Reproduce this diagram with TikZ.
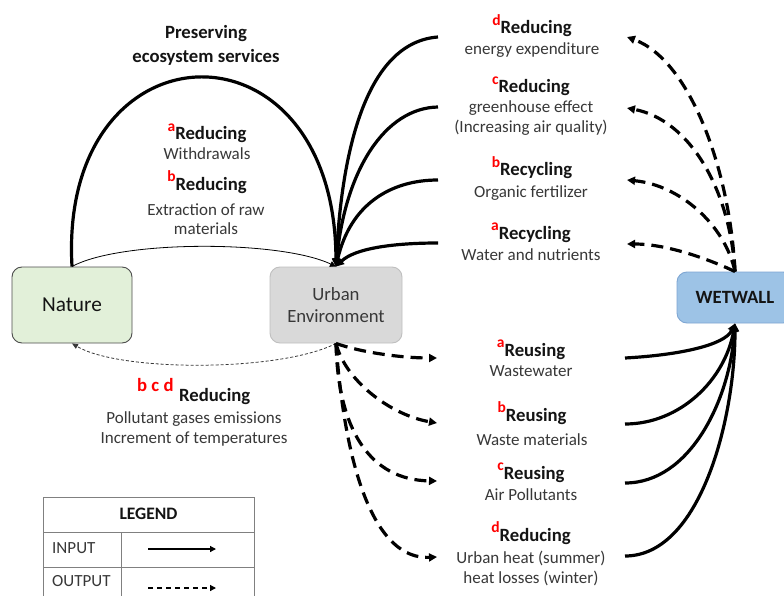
\documentclass[tikz,border=0pt]{standalone}
\usepackage{fontspec}
\setmainfont{Carlito}
\usetikzlibrary{arrows.meta}
\definecolor{txt}{HTML}{383838}
\definecolor{hd}{HTML}{141414}
\definecolor{natfill}{HTML}{E2F0D9}
\definecolor{natdraw}{HTML}{4D4D4D}
\definecolor{urbfill}{HTML}{D9D9D9}
\definecolor{urbdraw}{HTML}{BFBFBF}
\definecolor{wetfill}{HTML}{9DC3E6}
\definecolor{wetdraw}{HTML}{7EA6D3}
\definecolor{supred}{HTML}{FF0000}
\definecolor{legline}{HTML}{808080}
\newcommand\rsup[1]{\textcolor{supred}{\raisebox{8.5pt}{\fontsize{15.5}{15}\selectfont\bfseries #1}}}
\tikzset{
  box/.style={rounded corners=10pt, line width=0.9pt, inner sep=0, align=center},
  ttl/.style={inner sep=0, anchor=base, font=\fontsize{18.7}{22}\selectfont\bfseries, text=hd},
  body/.style={inner sep=0, anchor=base, font=\fontsize{17}{20}\selectfont, text=txt},
  inarr/.style={line width=3.2pt, -{Triangle[length=8pt,width=8pt]}},
  outarr/.style={line width=3.2pt, dash pattern=on 12pt off 7pt, -{Triangle[length=8pt,width=8pt]}},
  legrule/.style={draw=legline, line width=0.9pt},
}
\begin{document}
\begin{tikzpicture}[x=1pt,y=1pt]
\useasboundingbox (0,0) rectangle (784,-596);
\clip (0,0) rectangle (784,-596);
\fill[white] (0,0) rectangle (784,-596);

% main boxes
\node[box, fill=natfill, draw=natdraw, minimum width=120pt, minimum height=76pt,
      font=\fontsize{21.3}{25}\selectfont, text=hd] (nature) at (72,-305) {Nature};
\node[box, fill=urbfill, draw=urbdraw, minimum width=132pt, minimum height=76pt,
      font=\fontsize{18.7}{22}\selectfont, text=txt] (urban) at (336,-305) {Urban\\Environment};
\node[box, fill=wetfill, draw=wetdraw, minimum width=116pt, minimum height=51pt,
      font=\fontsize{18.7}{22}\selectfont\bfseries, text=hd] (wet) at (735,-297.5) {WETWALL};

% top-left texts
\node[ttl] (pres) at (206,-39) {Preserving};
\node[ttl] (eco) at (206,-63) {ecosystem services};
\node[ttl] (redA) at (207,-140) {\rsup{a}Reducing};
\node[body] (withd) at (207,-160) {Withdrawals};
\node[ttl] (redB) at (207,-190) {\rsup{b}Reducing};
\node[body] (extr) at (206,-215) {Extraction of raw};
\node[body] (mat) at (206,-234) {materials};

% bottom-left texts
\node[ttl, anchor=base west, text=supred] (bcd) at (137,-391) {b c d};
\node[ttl, anchor=base west] (redBCD) at (179,-401) {Reducing};
\node[body] (poll) at (194,-423) {Pollutant gases emissions};
\node[body] (incr) at (194,-443) {Increment of temperatures};

% right-top texts
\node[ttl] (rt1) at (532,-34) {\rsup{d}Reducing};
\node[body] (rb1) at (532,-55) {energy expenditure};
\node[ttl] (rt2) at (531,-93) {\rsup{c}Reducing};
\node[body] (rb2) at (531,-113) {greenhouse effect};
\node[body] (rb2b) at (531,-133) {(Increasing air quality)};
\node[ttl] (rt3) at (532,-176) {\rsup{b}Recycling};
\node[body] (rb3) at (531,-197) {Organic fertilizer};
\node[ttl] (rt4) at (531,-239) {\rsup{a}Recycling};
\node[body] (rb4) at (531,-260) {Water and nutrients};

% right-bottom texts
\node[ttl] (bt1) at (531,-356) {\rsup{a}Reusing};
\node[body] (bb1) at (531,-376) {Wastewater};
\node[ttl] (bt2) at (532,-421) {\rsup{b}Reusing};
\node[body] (bb2) at (532,-445) {Waste materials};
\node[ttl] (bt3) at (531,-479) {\rsup{c}Reusing};
\node[body] (bb3) at (531,-500) {Air Pollutants};
\node[ttl] (bt4) at (531,-541) {\rsup{d}Reducing};
\node[body] (bb4) at (531,-563) {Urban heat (summer)};
\node[body] (bb4b) at (531,-583) {heat losses (winter)};

% connector end coordinates
\coordinate (s1) at (438,-37);
\coordinate (s2) at (438,-107);
\coordinate (s3) at (438,-180);
\coordinate (s4) at (438,-243);
\coordinate (o1) at (627,-37);
\coordinate (o2) at (627,-108);
\coordinate (o3) at (627,-180);
\coordinate (o4) at (627,-244);
\coordinate (u1) at (437,-358);
\coordinate (u2) at (437,-423);
\coordinate (u3) at (437,-481);
\coordinate (u4) at (437,-557);
\coordinate (w1) at (625,-358);
\coordinate (w2) at (625,-424);
\coordinate (w3) at (625,-483);
\coordinate (w4) at (625,-556);

% nature <-> urban
\draw[inarr] (nature.north) .. controls (58,-20) and (335,-10) .. (urban.north);
\draw[line width=0.8pt, -{Triangle[length=6pt,width=6pt]}] (nature.north) .. controls (120,-240) and (280,-240) .. (urban.north);
\draw[line width=0.8pt, draw=txt, dash pattern=on 3pt off 2pt, -{Triangle[length=6pt,width=5pt]}]
  (urban.south) .. controls (280,-372) and (120,-372) .. (nature.south);

% inputs to urban
\draw[inarr] (s1) .. controls (370,-42) and (342,-140) .. (urban.north);
\draw[inarr] (s2) .. controls (385,-108) and (345,-170) .. (urban.north);
\draw[inarr] (s3) .. controls (390,-180) and (350,-205) .. (urban.north);
\draw[inarr] (s4) .. controls (395,-243) and (355,-248) .. (urban.north);

% outputs of wetwall
\draw[outarr] (wet.north) .. controls (730,-170) and (690,-60) .. (o1);
\draw[outarr] (wet.north) .. controls (730,-190) and (690,-120) .. (o2);
\draw[outarr] (wet.north) .. controls (725,-225) and (680,-185) .. (o3);
\draw[outarr] (wet.north) .. controls (715,-262) and (670,-244) .. (o4);

% outputs of urban
\draw[outarr] (urban.south) .. controls (360,-352) and (400,-358) .. (u1);
\draw[outarr] (urban.south) .. controls (345,-380) and (390,-415) .. (u2);
\draw[outarr] (urban.south) .. controls (338,-430) and (370,-480) .. (u3);
\draw[outarr] (urban.south) .. controls (345,-470) and (375,-560) .. (u4);

% inputs to wetwall
\draw[inarr] (w1) .. controls (680,-355) and (725,-345) .. (wet.south);
\draw[inarr] (w2) .. controls (680,-424) and (725,-380) .. (wet.south);
\draw[inarr] (w3) .. controls (690,-483) and (730,-400) .. (wet.south);
\draw[inarr] (w4) .. controls (700,-556) and (735,-420) .. (wet.south);

% legend
\draw[legrule] (43,-497) rectangle (254,-640);
\draw[legrule] (43,-532) -- (254,-532);
\draw[legrule] (43,-567) -- (254,-567);
\draw[legrule] (121,-532) -- (121,-640);
\node[ttl, font=\fontsize{17.5}{20}\selectfont\bfseries] (leg) at (148.5,-519) {LEGEND};
\node[body, anchor=base west] (linp) at (52,-553) {INPUT};
\node[body, anchor=base west] (lout) at (52,-586) {OUTPUT};
\coordinate (li1) at (148,-549);
\coordinate (li2) at (216,-549);
\coordinate (lo1) at (148,-588);
\coordinate (lo2) at (216,-588);
\draw[line width=1.3pt, -{Triangle[length=6pt,width=6pt]}] (li1) -- (li2);
\draw[line width=1.3pt, dash pattern=on 5pt off 4pt, -{Triangle[length=6pt,width=6pt]}] (lo1) -- (lo2);
\end{tikzpicture}
\end{document}
